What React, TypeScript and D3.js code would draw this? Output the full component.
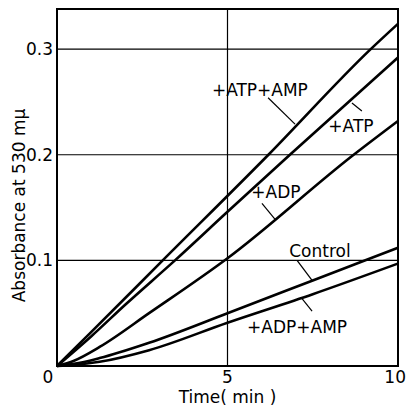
import React from "react";
import * as d3 from "d3";

// time (min) and absorbance
const atpAmp = [[0, 0], [1, 0.032], [3.1, 0.1], [6.2, 0.2], [9.2, 0.3], [10, 0.324]];
const atp = [[0, 0], [1, 0.028], [2, 0.058], [3.46, 0.1], [5, 0.146], [6.83, 0.2], [10, 0.292]];
const adp = [[0, 0], [0.5, 0.005], [1.25, 0.018], [2.7, 0.05], [5, 0.102], [8.7, 0.2], [10, 0.232]];
const control = [[0, 0], [0.5, 0.002], [1.25, 0.0075], [2.7, 0.022], [5, 0.05], [7.5, 0.081], [10, 0.112]];
const adpAmp = [[0, 0], [0.5, 0.001], [1.25, 0.004], [2.7, 0.015], [5, 0.041], [7.5, 0.068], [10, 0.097]];

const xTicks = [0, 5, 10];
const yTicks = [0.1, 0.2, 0.3];
const yTickLabels = ["0.1", "0.2", "0.3"];

// label text, label anchor (t, A), leader start and end (t, A)
const labels = [
  { text: "+ATP+AMP", at: [5.95, 0.256], from: [6.19, 0.254], to: [6.98, 0.229] },
  { text: "+ATP", at: [8.62, 0.222], from: [8.65, 0.249], to: [8.94, 0.2415] },
  { text: "+ADP", at: [6.42, 0.159], from: [6.01, 0.154], to: [6.39, 0.139] },
  { text: "Control", at: [7.71, 0.103], from: [7.04, 0.1], to: [7.48, 0.081] },
  { text: "+ADP+AMP", at: [7.04, 0.031], from: [7.18, 0.064], to: [7.48, 0.052] },
];

const width = 407;
const height = 407;
const margin = { top: 9, right: 9, bottom: 41, left: 57 };
const font = "DejaVu Sans, sans-serif";

export default function App() {
  const x = d3.scaleLinear().domain([0, 10]).range([margin.left, width - margin.right]);
  const y = d3.scaleLinear().domain([0, 0.338]).range([height - margin.bottom, margin.top]);

  const line = d3
    .line<number[]>()
    .x((d) => x(d[0]))
    .y((d) => y(d[1]))
    .curve(d3.curveMonotoneX);

  const series = [atpAmp, atp, adp, control, adpAmp];
  const [x0, x1] = x.range();
  const [y0, y1] = y.range();

  return (
    <svg
      width={width}
      height={height}
      style={{ position: "absolute", left: 0, top: 0, background: "#fff" }}
      fontFamily={font}
    >
      {/* grid */}
      {yTicks.map((t) => (
        <line key={t} x1={x0} x2={x1} y1={y(t)} y2={y(t)} stroke="#000" strokeWidth={1.2} />
      ))}
      <line x1={x(5)} x2={x(5)} y1={y0} y2={y1} stroke="#000" strokeWidth={1.2} />

      {/* frame */}
      <rect x={x0} y={y1} width={x1 - x0} height={y0 - y1} fill="none" stroke="#000" strokeWidth={2} />

      {/* curves */}
      {series.map((s, i) => (
        <path key={i} d={line(s) || ""} fill="none" stroke="#000" strokeWidth={2.6} />
      ))}

      {/* annotations */}
      {labels.map((l) => (
        <g key={l.text}>
          <line
            x1={x(l.from[0])}
            y1={y(l.from[1])}
            x2={x(l.to[0])}
            y2={y(l.to[1])}
            stroke="#000"
            strokeWidth={1.2}
          />
          <text x={x(l.at[0])} y={y(l.at[1])} textAnchor="middle" fontSize={17}>
            {l.text}
          </text>
        </g>
      ))}

      {/* y tick labels */}
      {yTicks.map((t, i) => (
        <text key={t} x={x0 - 4} y={y(t) + 6} textAnchor="end" fontSize={17}>
          {yTickLabels[i]}
        </text>
      ))}

      {/* x tick labels */}
      {xTicks.map((t) => (
        <text
          key={t}
          x={t === 0 ? x(t) - 9 : t === 10 ? width - 1 : x(t)}
          y={y0 + 17}
          textAnchor={t === 10 ? "end" : "middle"}
          fontSize={17}
        >
          {t}
        </text>
      ))}

      <text x={x(5)} y={y0 + 37} textAnchor="middle" fontSize={17}>
        Time( min )
      </text>
      <text
        transform={`translate(25,${(y0 + y1) / 2 + 18}) rotate(-90)`}
        textAnchor="middle"
        fontSize={17}
      >
        Absorbance at 530 mμ
      </text>
    </svg>
  );
}
